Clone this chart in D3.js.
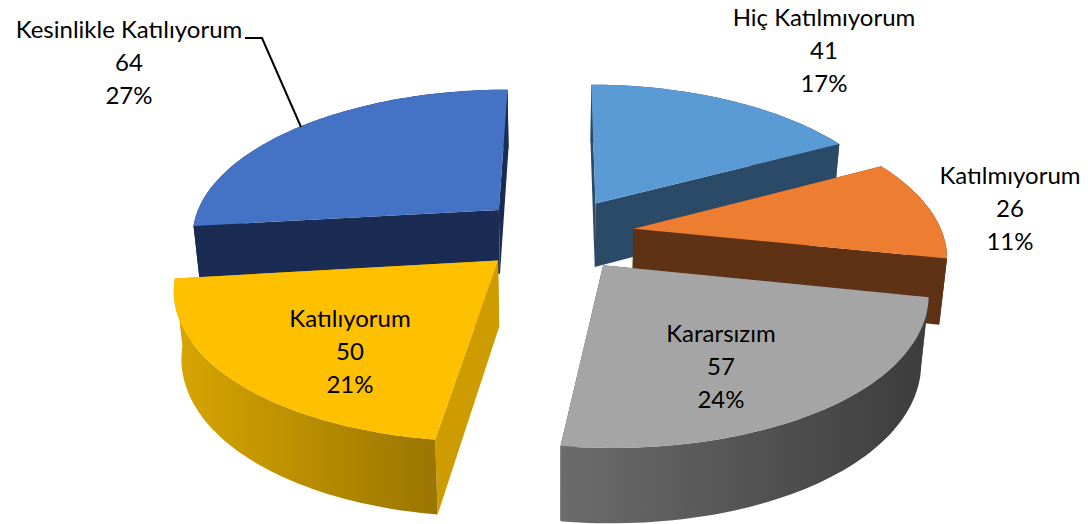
<!DOCTYPE html>
<html><head><meta charset="utf-8">
<script src="https://cdn.jsdelivr.net/npm/d3@7"></script>
<style>html,body{margin:0;padding:0;background:#fff}svg{display:block}text{font-family:Lato,sans-serif;fill:#000}</style>
</head><body><svg id="c" width="1088" height="524"></svg>
<script>
const categories=["Hiç Katılmıyorum","Katılmıyorum","Kararsızım","Katılıyorum","Kesinlikle Katılıyorum"];
const values=[41,26,57,50,64];
const percents=["17%","11%","24%","21%","27%"];
const topColors=["#5b9bd5","#ed7d31","#a5a5a5","#ffc000","#4472c4"];
const sideColors=["#2a4a68","#5f3115","#4a4a4a","#cc9c00","#1a2c54"];
const wallStops=[["#2a4a68","#2a4a68"],["#5f3115","#5f3115"],["#6c6c6c","#3c3c3c"],["#d8a600","#9a7500"],["#1a2c54","#1a2c54"]];
const labelBoxes=[[824,18],[1010,176],[721,334],[350,319],[129,30]];
const drawOrder=[4,0,1,3,2];

const cx=556,cy=234,rx=309,ry=145,kx=0.16,ky=0.15,expl=0.255,depth=65,depthPersp=0.72,shrink=0.02,rot=0.004;
const svg=d3.select("#c"),defs=svg.append("defs");
const arcs=d3.pie().sort(null).startAngle(rot).endAngle(2*Math.PI+rot)(values);
function proj(u,v,z){const px=1/(1-kx*v),py=1/(1-ky*v);const dp=1+(py-1)*depthPersp;
  return [cx+rx*u*px*(1-shrink*z),cy+ry*v*py+z*depth*dp];}
function pt(d,a,r,z){const m=(d.startAngle+d.endAngle)/2;
  return proj(expl*Math.sin(m)+r*Math.sin(a),-expl*Math.cos(m)-r*Math.cos(a),z);}
function rim(d,z){return d3.range(0,61).map(i=>pt(d,d.startAngle+(d.endAngle-d.startAngle)*i/60,1,z));}
const line=d3.line();

arcs.forEach((d,i)=>{
  const g=defs.append("linearGradient").attr("id","w"+i);
  g.append("stop").attr("offset",0).attr("stop-color",wallStops[i][0]);
  g.append("stop").attr("offset",1).attr("stop-color",wallStops[i][1]);
});

const groups=svg.selectAll("g.slice").data(drawOrder.map(i=>({...arcs[i],idx:i}))).join("g").attr("class","slice");
groups.each(function(d){
  const g=d3.select(this),i=d.idx;
  const edge=a=>[pt(d,a,0,0),pt(d,a,1,0),pt(d,a,1,1),pt(d,a,0,1)];
  [d.startAngle,d.endAngle].forEach(a=>{
    g.append("path").attr("d",line(edge(a))+"Z").attr("fill",sideColors[i]);
  });
  const top=rim(d,0),bottom=rim(d,1).reverse();
  g.append("path").attr("d",line(top.concat(bottom))+"Z").attr("fill",`url(#w${i})`);
  g.append("path").attr("d",line([pt(d,0,0,0)].concat(top))+"Z").attr("fill",topColors[i]);
});

svg.append("path").attr("d","M245,38H262L301,127").attr("fill","none").attr("stroke","#000").attr("stroke-width",2);

categories.forEach((c,i)=>{
  const [x,y]=labelBoxes[i];
  const t=svg.append("text").attr("text-anchor","middle").attr("font-size",24);
  [c,values[i],percents[i]].forEach((s,j)=>t.append("tspan").attr("x",x).attr("y",y+8+j*33).text(s));
});
</script></body></html>
